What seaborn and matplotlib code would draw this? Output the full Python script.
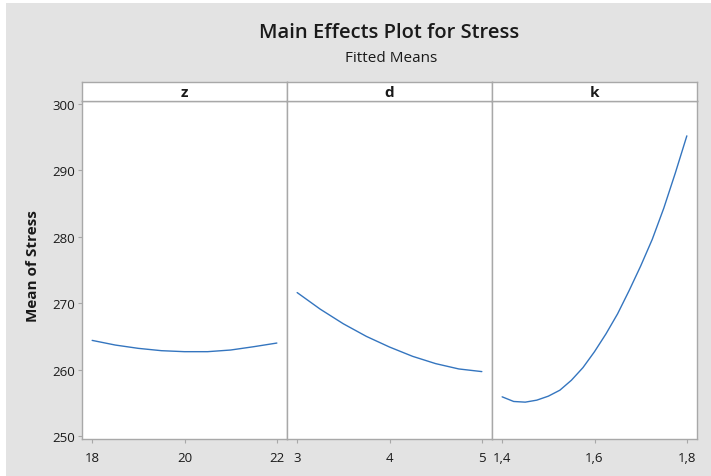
import matplotlib
matplotlib.use("Agg")
import matplotlib.pyplot as plt
import seaborn as sns
import pandas as pd
from matplotlib.patches import Rectangle

# ---- data ----
z_x = [18, 18.5, 19, 19.5, 20, 20.5, 21, 21.5, 22]
z_y = [264.4, 263.7, 263.2, 262.85, 262.7, 262.7, 262.95, 263.45, 264.0]

d_x = [3, 3.25, 3.5, 3.75, 4, 4.25, 4.5, 4.75, 5]
d_y = [271.6, 269.1, 266.9, 265.0, 263.4, 262.0, 260.9, 260.1, 259.7]

k_x = [1.40, 1.425, 1.45, 1.475, 1.50, 1.525, 1.55, 1.575, 1.60,
       1.625, 1.65, 1.675, 1.70, 1.725, 1.75, 1.775, 1.80]
k_y = [255.9, 255.2, 255.1, 255.4, 256.0, 256.9, 258.4, 260.3, 262.7,
       265.4, 268.4, 271.9, 275.6, 279.6, 284.3, 289.6, 295.2]

factors = ["z", "d", "k"]
z_ticks, z_labels = [18, 20, 22], ["18", "20", "22"]
d_ticks, d_labels = [3, 4, 5], ["3", "4", "5"]
k_ticks, k_labels = [1.4, 1.6, 1.8], ["1,4", "1,6", "1,8"]
y_ticks = [250, 260, 270, 280, 290, 300]

title = "Main Effects Plot for Stress"
subtitle = "Fitted Means"
ylabel = "Mean of Stress"

# ---- style ----
sns.set_style("white")
plt.rcParams["font.family"] = ["Open Sans", "DejaVu Sans"]

W, H = 711, 477
fig = plt.figure(figsize=(W / 100, H / 100), dpi=100)
fig.patch.set_facecolor("white")
bg = "#e3e3e3"
fig.add_artist(Rectangle((6 / W, 0), 1 - 6 / W, 1 - 4 / H, transform=fig.transFigure,
                         facecolor=bg, edgecolor="none", zorder=0))

LINE = "#3475bf"
SPINE = "#a8a8a8"
TXT = "#1a1a1a"

panels = [
    ("z", z_x, z_y, z_ticks, z_labels),
    ("d", d_x, d_y, d_ticks, d_labels),
    ("k", k_x, k_y, k_ticks, k_labels),
]

left0, pw = 82, 205
top, bottom = 102, 440
strip_top = 83

for i, (name, xs, ys, ticks, labels) in enumerate(panels):
    l = left0 + i * pw
    ax = fig.add_axes([l / W, 1 - bottom / H, pw / W, (bottom - top) / H])
    ax.set_facecolor("white")
    df = pd.DataFrame({"x": xs, "y": ys})
    sns.lineplot(data=df, x="x", y="y", ax=ax, color=LINE, linewidth=1.0)
    lo, hi = ticks[0], ticks[-1]
    pad = 0.055 * (hi - lo)
    ax.set_xlim(lo - pad, hi + pad)
    ax.set_ylim(249.55, 300.45)
    ax.set_xticks(ticks)
    ax.set_xticklabels(labels)
    ax.set_xlabel("")
    ax.set_ylabel("")
    for s in ax.spines.values():
        s.set_color(SPINE)
        s.set_linewidth(1.0)
    ax.tick_params(axis="x", direction="out", length=3, width=0.8, color=SPINE,
                   labelsize=9.5, labelcolor=TXT, pad=6, bottom=True)
    ax.set_yticks(y_ticks)
    if i == 0:
        ax.tick_params(axis="y", direction="out", length=3, width=0.8, color=SPINE,
                       labelsize=9.5, labelcolor=TXT, pad=2, left=True)
    else:
        ax.tick_params(axis="y", left=False, labelleft=False)
    # strip header
    sax = fig.add_axes([l / W, 1 - top / H, pw / W, (top - strip_top) / H])
    sax.set_facecolor("white")
    sax.set_xticks([])
    sax.set_yticks([])
    for s in sax.spines.values():
        s.set_color(SPINE)
        s.set_linewidth(1.0)
    sax.text(0.5, 0.45, name, ha="center", va="center", fontsize=11,
             fontweight="bold", color=TXT, transform=sax.transAxes)

fig.text(33 / W, 1 - 266 / H, ylabel, rotation=90, ha="center", va="center",
         fontsize=11, fontweight="bold", color=TXT)
fig.text(389 / W, 1 - 33 / H, title, ha="center", va="center",
         fontsize=14.5, fontweight="semibold", color=TXT)
fig.text(391 / W, 1 - 58 / H, subtitle, ha="center", va="center",
         fontsize=11, color=TXT)

fig.savefig("out.png", dpi=100, facecolor=fig.get_facecolor())
